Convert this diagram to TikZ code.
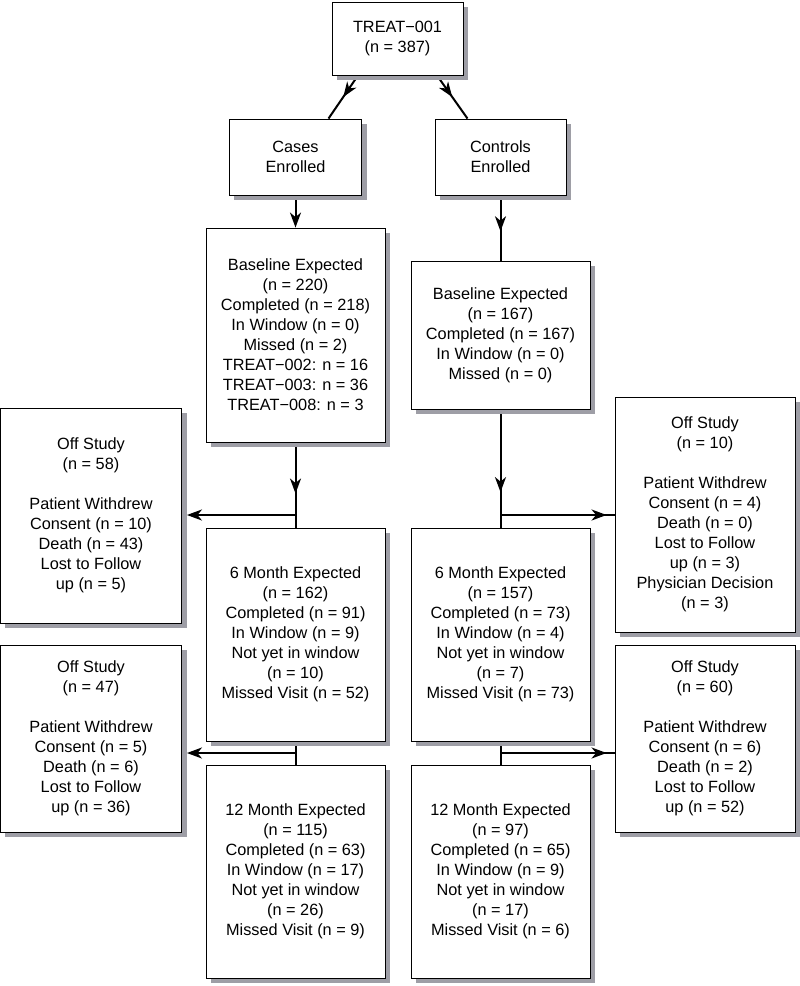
\documentclass[tikz,border=0pt]{standalone}
\usepackage{fontspec}
\setmainfont{Liberation Sans}
\usetikzlibrary{arrows.meta,decorations.markings,backgrounds}
\definecolor{shadowgray}{rgb}{0.62,0.62,0.65}
\tikzset{
  box/.style={draw,fill=white,line width=0.9pt,align=center,inner sep=0pt,
    font=\fontsize{16.3}{20}\selectfont},
  link/.style={line width=2pt},
  tip/.style={-{Stealth[length=15pt,width=11pt,inset=4.5pt]}},
  midarrow/.style={postaction={decorate},decoration={markings,
    mark=at position #1 with {\arrow{Stealth[length=15pt,width=11pt,inset=4.5pt]}}}}
}
\begin{document}
\begin{tikzpicture}[x=1pt,y=-1pt]
  \useasboundingbox (0,0) rectangle (800,986);

  % Nodes
  \node[box,minimum width=131pt,minimum height=73pt] (top) at (397.5,38.5) {TREAT−001\\(n = 387)};
  \node[box,minimum width=132pt,minimum height=76pt] (cases) at (295.5,157) {Cases\\Enrolled};
  \node[box,minimum width=131pt,minimum height=76pt] (controls) at (500.5,157) {Controls\\Enrolled};

  \node[box,minimum width=179pt,minimum height=214pt] (base1) at (295.5,335)
    {Baseline Expected\\(n = 220)\\Completed (n = 218)\\In Window (n = 0)\\Missed (n = 2)\\TREAT−002: n = 16\\TREAT−003: n = 36\\TREAT−008: n = 3};
  \node[box,minimum width=179pt,minimum height=148pt] (base2) at (500.5,335)
    {Baseline Expected\\(n = 167)\\Completed (n = 167)\\In Window (n = 0)\\Missed (n = 0)};

  \node[box,minimum width=181pt,minimum height=215pt] (off1L) at (91,515.5)
    {Off Study\\(n = 58)\\[20pt]Patient Withdrew\\Consent (n = 10)\\Death (n = 43)\\Lost to Follow\\up (n = 5)};
  \node[box,minimum width=180pt,minimum height=235pt] (off1R) at (705,514.5)
    {Off Study\\(n = 10)\\[20pt]Patient Withdrew\\Consent (n = 4)\\Death (n = 0)\\Lost to Follow\\up (n = 3)\\Physician Decision\\(n = 3)};

  \node[box,minimum width=179pt,minimum height=213pt] (m6a) at (295.5,634.5)
    {6 Month Expected\\(n = 162)\\Completed (n = 91)\\In Window (n = 9)\\Not yet in window\\(n = 10)\\Missed Visit (n = 52)};
  \node[box,minimum width=179pt,minimum height=213pt] (m6b) at (500.5,634.5)
    {6 Month Expected\\(n = 157)\\Completed (n = 73)\\In Window (n = 4)\\Not yet in window\\(n = 7)\\Missed Visit (n = 73)};

  \node[box,minimum width=181pt,minimum height=187pt] (off2L) at (91,738.5)
    {Off Study\\(n = 47)\\[20pt]Patient Withdrew\\Consent (n = 5)\\Death (n = 6)\\Lost to Follow\\up (n = 36)};
  \node[box,minimum width=180pt,minimum height=187pt] (off2R) at (705,738.5)
    {Off Study\\(n = 60)\\[20pt]Patient Withdrew\\Consent (n = 6)\\Death (n = 2)\\Lost to Follow\\up (n = 52)};

  \node[box,minimum width=179pt,minimum height=213pt] (m12a) at (295.5,871.5)
    {12 Month Expected\\(n = 115)\\Completed (n = 63)\\In Window (n = 17)\\Not yet in window\\(n = 26)\\Missed Visit (n = 9)};
  \node[box,minimum width=179pt,minimum height=213pt] (m12b) at (500.5,871.5)
    {12 Month Expected\\(n = 97)\\Completed (n = 65)\\In Window (n = 9)\\Not yet in window\\(n = 17)\\Missed Visit (n = 6)};

  % Branch points
  \coordinate (j1) at (295.5,515);
  \coordinate (j2) at (500.5,515);
  \coordinate (j3) at (295.5,753);
  \coordinate (j4) at (500.5,753);

  % Arrows and shadows
  \begin{scope}[on background layer]
    \draw[link,midarrow=0.5] ([xshift=-39.5pt]top.south) -- ([xshift=33pt]cases.north);
    \draw[link,midarrow=0.5] ([xshift=39.5pt]top.south) -- ([xshift=-33pt]controls.north);
    \draw[link,tip] (cases.south) -- (base1.north);
    \draw[link,midarrow=0.55] (controls.south) -- (base2.north);
    \draw[link,midarrow=0.6] (base1.south) -- (m6a.north);
    \draw[link,midarrow=0.7] (base2.south) -- (m6b.north);
    \draw[link] (m6a.south) -- (m12a.north);
    \draw[link] (m6b.south) -- (m12b.north);
    \foreach \j/\offbox in {j1/off1L, j3/off2L}
      \draw[link,tip] (\j) -- ([xshift=5pt]\j -| \offbox.east);
    \foreach \j/\offbox in {j2/off1R, j4/off2R}
      \draw[link,midarrow=0.93] (\j) -- (\j -| \offbox.west);
    \foreach \nm in {top,cases,controls,base1,base2,off1L,off1R,m6a,m6b,off2L,off2R,m12a,m12b}
      \fill[shadowgray] ([xshift=5pt,yshift=-5pt]\nm.south west) rectangle ([xshift=5pt,yshift=-5pt]\nm.north east);
  \end{scope}

\end{tikzpicture}
\end{document}
